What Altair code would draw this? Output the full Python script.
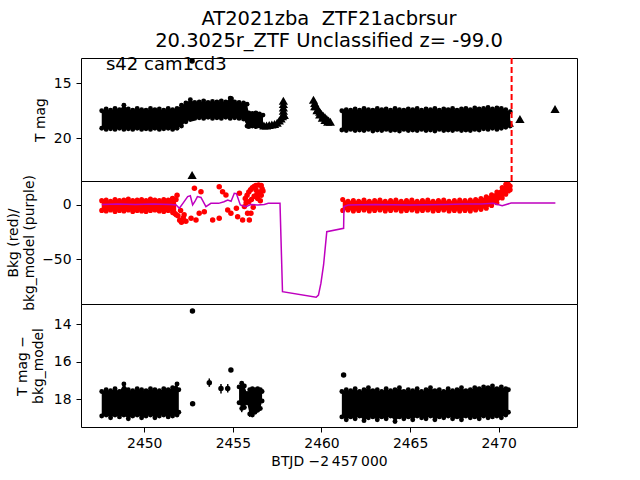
import altair as alt
import pandas as pd

FONT = "DejaVu Sans"
X_DOMAIN = [2446.43, 2474.42]
P1_DOMAIN = [12.7, 23.9]
P2_DOMAIN = [-91.2, 22.1]
P3_DOMAIN = [12.93, 19.49]
W, H = 496, 123

TITLE_LINES = ["AT2021zba\u00a0 ZTF21acbrsur", "20.3025r_ZTF Unclassified z= -99.0"]
LABEL_TEXT = "s42 cam1cd3"
LABEL_POS = [2447.84, 13.79]
X_TICKS = [2450, 2455, 2460, 2465, 2470]
P1_TICKS = [15, 20]
P2_TICKS = [0, -50]
P3_TICKS = [14, 16, 18]
DASH_T = [2470.73]

# ---------- panel 1: T mag ----------
p1a_t = [2447.6, 2447.85, 2448.1, 2448.35, 2448.6, 2448.85, 2449.1, 2449.35, 2449.6, 2449.85,
         2450.1, 2450.35, 2450.6, 2450.85, 2451.1, 2451.35, 2451.6, 2451.85, 2452.1, 2452.35,
         2452.6, 2452.85, 2453.1, 2453.35, 2453.6, 2453.85, 2454.1, 2454.35, 2454.6, 2454.85,
         2455.1, 2455.35, 2455.6, 2455.8, 2455.9, 2456.1, 2456.3, 2456.5, 2456.7]
p1a_top = [17.5, 17.35, 17.45, 17.3, 17.4, 17.0, 17.35, 17.45, 17.3, 17.4,
           17.45, 17.3, 17.4, 17.35, 17.45, 17.3, 17.4, 17.3, 17.0, 16.8,
           16.5, 16.75, 16.7, 16.6, 16.75, 16.65, 16.7, 16.6, 16.7, 16.35,
           16.7, 16.75, 16.8, 16.9, 17.7, 17.75, 17.7, 17.8, 17.9]
p1a_bot = [19.1, 19.2, 19.15, 19.2, 19.1, 19.2, 19.15, 19.2, 19.1, 19.2,
           19.15, 19.2, 19.1, 19.2, 19.15, 19.1, 19.2, 19.1, 18.9, 18.5,
           18.3, 18.2, 18.15, 18.2, 18.1, 18.2, 18.15, 18.2, 18.1, 18.2,
           18.15, 18.2, 18.25, 18.9, 18.95, 18.9, 18.95, 18.9, 18.85]
p1b_t = [2461.15, 2461.4, 2461.65, 2461.9, 2462.15, 2462.4, 2462.65, 2462.9, 2463.15, 2463.4,
         2463.65, 2463.9, 2464.15, 2464.4, 2464.65, 2464.9, 2465.15, 2465.4, 2465.65, 2465.9,
         2466.15, 2466.4, 2466.65, 2466.9, 2467.15, 2467.4, 2467.65, 2467.9, 2468.15, 2468.4,
         2468.65, 2468.9, 2469.15, 2469.4, 2469.65, 2469.9, 2470.15, 2470.4, 2470.65]
p1b_top = [17.5, 17.4, 17.45, 17.35, 17.45, 17.3, 17.4, 17.45, 17.3, 17.4,
           17.35, 17.45, 17.3, 17.4, 17.45, 17.35, 17.4, 17.3, 17.45, 17.35,
           17.4, 17.3, 17.45, 17.35, 17.4, 17.3, 17.45, 17.35, 17.3, 17.4,
           17.25, 17.35, 17.3, 17.2, 17.35, 17.25, 17.3, 17.4, 17.6]
p1b_bot = [19.25, 19.3, 19.2, 19.3, 19.25, 19.3, 19.2, 19.35, 19.25, 19.3,
           19.2, 19.3, 19.25, 19.35, 19.2, 19.3, 19.25, 19.3, 19.2, 19.3,
           19.25, 19.35, 19.2, 19.3, 19.25, 19.3, 19.2, 19.3, 19.25, 19.3,
           19.2, 19.25, 19.15, 19.2, 19.1, 19.2, 19.1, 19.0, 18.9]
p1_dot_t = [2452.7, 2452.72, 2454.9]
p1_dot_v = [12.97, 18.2, 16.4]
p1_tri_t = [2456.75, 2456.9, 2457.05, 2457.2, 2457.35, 2457.5, 2457.62, 2457.72,
            2457.85, 2457.85, 2457.85, 2457.85, 2457.85, 2457.8, 2457.9,
            2459.55, 2459.62, 2459.7, 2459.8, 2459.9, 2460.0, 2460.1, 2460.2, 2460.3, 2460.4, 2460.5,
            2459.62, 2459.75, 2459.9, 2460.05, 2460.2, 2460.35,
            2470.6, 2471.2, 2473.18, 2452.7]
p1_tri_v = [18.85, 18.85, 18.8, 18.75, 18.7, 18.6, 18.4, 18.2,
            16.6, 16.9, 17.2, 17.5, 17.8, 18.0, 17.9,
            16.5, 16.8, 17.1, 17.35, 17.6, 17.8, 17.95, 18.1, 18.25, 18.4, 18.5,
            17.1, 17.45, 17.85, 18.15, 18.35, 18.5,
            18.6, 18.25, 17.35, 23.35]

# ---------- panel 2: background ----------
p2a_t = [2447.6, 2447.85, 2448.1, 2448.35, 2448.6, 2448.85, 2449.1, 2449.35, 2449.6, 2449.85,
         2450.1, 2450.35, 2450.6, 2450.85, 2451.1, 2451.35, 2451.6, 2451.8]
p2a_top = [4, 4.5, 3.5, 5, 4, 4.5, 5.5, 4, 4.5, 5, 4, 5.5, 4.5, 4, 5, 4.5, 6, 5]
p2a_bot = [-5, -5.5, -4.5, -6, -5, -5.5, -4.5, -6, -5, -5.5, -6, -5, -4.5, -5.5, -6, -5, -7, -9]
p2b_t = [2461.2, 2461.5, 2461.8, 2462.1, 2462.4, 2462.7, 2463.0, 2463.3, 2463.6, 2463.9,
         2464.2, 2464.5, 2464.8, 2465.1, 2465.4, 2465.7, 2466.0, 2466.3, 2466.6, 2466.9,
         2467.2, 2467.5, 2467.8, 2468.1, 2468.4, 2468.7, 2469.0, 2469.3, 2469.6, 2469.9,
         2470.2, 2470.4, 2470.55, 2470.65]
p2b_top = [5, 3.5, 4, 3.5, 4.5, 3.5, 4, 4.5, 3.5, 4, 4.5, 3.5, 4, 4.5, 3.5, 4, 4.5, 3.5, 4, 4.5,
           3.5, 4, 4.5, 4, 4.5, 5, 6, 7.5, 9.5, 12, 16, 19, 19, 17.5]
p2b_bot = [-5, -4.5, -5.5, -5, -4.5, -5.5, -5, -4.5, -5.5, -5, -4.5, -5.5, -5, -4.5, -5.5, -5,
           -4.5, -5.5, -5, -4.5, -5.5, -5, -5.5, -5, -5.5, -4.5, -4, -3, -0.5, 2, 6.5, 10, 13, 14]
p2_dot_t = [2451.6, 2451.75, 2451.9, 2452.0, 2452.1, 2452.2, 2451.85, 2452.05, 2452.25, 2452.35,
            2452.64, 2452.92, 2452.83, 2453.2, 2453.1, 2453.39, 2453.86, 2454.23, 2454.23, 2454.42,
            2454.61, 2454.71, 2454.89, 2455.2, 2455.27, 2455.55, 2455.65, 2455.83, 2455.93, 2456.02,
            2455.37, 2455.7, 2455.8, 2455.9, 2456.0, 2456.1, 2456.2, 2456.3, 2456.45, 2456.6,
            2456.65, 2456.5, 2456.35, 2456.2, 2456.05, 2455.9, 2456.4, 2456.6, 2456.7, 2456.3,
            2456.55, 2456.15, 2455.75]
p2_dot_v = [6, -8, -10, -14, -16, -12, 9, -5, -9, -15,
            -12.3, -13.8, 15.4, 12.3, -7.7, -6.2, -13.8, -12.3, 16.9, 12.3,
            9.2, -4.6, -7.7, -3.1, -10.8, -13.8, -1.5, -7.7, -13.8, -7.7,
            10.8, 6, 9, 12, 14, 16, 17, 18, 18.5, 18,
            15, 12, 10, 8, 5, 3, 6, 9, 13, 14,
            4, -2, 2]
p2_model_t = [2447.6, 2448.5, 2449.5, 2450.5, 2451.5, 2451.8, 2451.98, 2452.2, 2452.45, 2452.6,
              2452.73, 2452.85, 2453.0, 2453.2, 2453.48, 2453.76, 2454.2, 2454.5, 2454.71, 2454.9,
              2455.08, 2455.2, 2455.42, 2455.74, 2456.0, 2456.4, 2456.77, 2457.0, 2457.4, 2457.66,
              2457.8, 2459.7, 2459.83, 2459.97, 2460.12, 2460.3, 2461.25, 2461.27, 2461.5, 2463.0,
              2465.0, 2467.0, 2468.0, 2469.0, 2469.7, 2470.2, 2470.7, 2471.5, 2473.2]
p2_model_v = [0.5, 0.8, 0.5, 0.8, 0.5, 0, -3, 2, 7.7, 8.5,
              0, 3, 7.7, 7, -1.5, 1.5, 1.5, 3, 4.6, 3.5,
              10.8, 10.5, 0, -1.5, 0.5, 0, 0.5, 1.5, 1.5, 1.5,
              -79.8, -85, -83, -72, -55, -24.6, -21.5, -1.5, 0, 0.5,
              0, 0.5, 0.9, 0.9, 1.5, -0.6, 1.8, 1.8, 1.8]

# ---------- panel 3: T mag - bkg_model ----------
p3a_t = [2447.6, 2447.85, 2448.1, 2448.35, 2448.6, 2448.85, 2449.1, 2449.35, 2449.6, 2449.85,
         2450.1, 2450.35, 2450.6, 2450.85, 2451.1, 2451.35, 2451.6, 2451.85, 2451.95]
p3a_top = [17.6, 17.5, 17.55, 17.45, 17.6, 17.2, 17.5, 17.55, 17.45, 17.5,
           17.55, 17.45, 17.5, 17.55, 17.45, 17.5, 17.4, 17.2, 17.5]
p3a_bot = [18.9, 18.85, 19.0, 18.85, 18.95, 18.85, 19.05, 18.9, 18.85, 19.0,
           18.9, 18.85, 19.0, 18.9, 18.85, 18.95, 18.9, 18.85, 18.7]
p3b_t = [2455.35, 2455.5, 2455.65, 2455.8, 2455.95, 2456.1, 2456.25, 2456.4, 2456.55, 2456.65]
p3b_top = [17.35, 17.15, 17.3, 17.7, 17.5, 17.45, 17.5, 17.45, 17.5, 17.6]
p3b_bot = [18.2, 18.5, 18.45, 18.2, 18.8, 18.85, 18.7, 18.6, 18.5, 18.1]
p3c_t = [2461.15, 2461.4, 2461.65, 2461.9, 2462.15, 2462.4, 2462.65, 2462.9, 2463.15, 2463.4,
         2463.65, 2463.9, 2464.15, 2464.4, 2464.65, 2464.9, 2465.15, 2465.4, 2465.65, 2465.9,
         2466.15, 2466.4, 2466.65, 2466.9, 2467.15, 2467.4, 2467.65, 2467.9, 2468.15, 2468.4,
         2468.65, 2468.9, 2469.15, 2469.4, 2469.65, 2469.9, 2470.15, 2470.4, 2470.55]
p3c_top = [17.6, 17.5, 17.55, 17.45, 17.6, 17.5, 17.4, 17.55, 17.5, 17.6,
           17.45, 17.55, 17.5, 17.4, 17.6, 17.5, 17.55, 17.45, 17.6, 17.5,
           17.4, 17.55, 17.5, 17.6, 17.45, 17.55, 17.5, 17.4, 17.55, 17.5,
           17.4, 17.45, 17.35, 17.4, 17.3, 17.45, 17.35, 17.45, 17.5]
p3c_bot = [18.95, 19.1, 18.95, 19.05, 18.9, 19.15, 19.0, 18.95, 19.1, 18.95,
           19.05, 18.9, 19.2, 18.95, 19.05, 18.95, 19.1, 18.9, 19.0, 19.05,
           18.9, 19.1, 18.95, 19.0, 18.9, 19.05, 18.95, 19.1, 18.9, 19.0,
           18.95, 19.05, 18.9, 19.0, 18.95, 18.9, 19.0, 18.85, 18.7]
p3_dot_t = [2452.72, 2452.73, 2453.67, 2454.33, 2454.71, 2454.89, 2461.25]
p3_dot_v = [13.3, 18.25, 17.13, 17.43, 17.43, 16.45, 16.72]
p3_err_t = [2453.67, 2454.33, 2454.71, 2455.5, 2455.95]
p3_err_lo = [16.9, 17.2, 17.2, 17.1, 17.5]
p3_err_hi = [17.35, 17.7, 17.65, 18.7, 18.95]


def band(parts):
    frames = []
    for k, (t, top, bot) in enumerate(parts):
        frames.append(pd.DataFrame({"t": t, "v": top, "v2": bot, "seg": k}))
    return pd.concat(frames, ignore_index=True)


def edges(df):
    a = df[["t", "v"]]
    b = df[["t", "v2"]].rename(columns={"v2": "v"})
    return pd.concat([a, b], ignore_index=True)


xscale = alt.Scale(domain=X_DOMAIN, nice=False, zero=False)
x_none = alt.X("t:Q", scale=xscale, axis=None)
x_axis = alt.X("t:Q", scale=xscale, axis=alt.Axis(
    values=X_TICKS, format="d", title="BTJD \u22122\u2009457\u2009000",
    tickSize=5, labelPadding=4, titlePadding=5, grid=False, domain=False))


def yenc(domain, ticks, title, tx):
    return alt.Y("v:Q", scale=alt.Scale(domain=domain, nice=False, zero=False,
                                       reverse=(domain[0] > 0)),
                 axis=alt.Axis(values=ticks, format="d", title=title, titleX=tx,
                               titleBaseline="bottom", titleAngle=-90, titleAlign="center",
                               tickSize=5, labelPadding=5, grid=False, domain=False))


# panel 1
b1 = band([(p1a_t, p1a_top, p1a_bot), (p1b_t, p1b_top, p1b_bot)])
y1 = yenc(P1_DOMAIN, P1_TICKS, "T mag", -34)
p1 = alt.layer(
    alt.Chart(b1).mark_area(color="black", opacity=1).encode(x=x_none, y=y1, y2="v2:Q", detail="seg:N"),
    alt.Chart(edges(b1)).mark_circle(color="black", size=24, opacity=1).encode(x=x_none, y=y1),
    alt.Chart(pd.DataFrame({"t": p1_dot_t, "v": p1_dot_v})).mark_circle(color="black", size=30, opacity=1).encode(x=x_none, y=y1),
    alt.Chart(pd.DataFrame({"t": [LABEL_POS[0]], "v": [LABEL_POS[1]], "s": [LABEL_TEXT]})).mark_text(
        align="left", baseline="alphabetic", font=FONT, fontSize=18, color="black").encode(x=x_none, y=y1, text="s:N"),
    alt.Chart(pd.DataFrame({"t": p1_tri_t, "v": p1_tri_v})).mark_point(
        shape="triangle-up", filled=True, color="black", size=85, opacity=1).encode(x=x_none, y=y1),
    alt.Chart(pd.DataFrame({"t": DASH_T})).mark_rule(color="red", strokeWidth=2, strokeDash=[6, 3]).encode(x=x_none),
).properties(width=W, height=H, title=alt.Title(
    TITLE_LINES, font=FONT, fontSize=19.5, fontWeight="normal", color="black",
    anchor="middle", frame="group", offset=4, lineHeight=22))

# panel 2
b2 = band([(p2a_t, p2a_top, p2a_bot), (p2b_t, p2b_top, p2b_bot)])
y2 = yenc(P2_DOMAIN, P2_TICKS, ["Bkg (red)/", "bkg_model (purple)"], -61)
p2 = alt.layer(
    alt.Chart(b2).mark_area(color="#ff0000", opacity=1).encode(x=x_none, y=y2, y2="v2:Q", detail="seg:N"),
    alt.Chart(edges(b2)).mark_circle(color="#ff0000", size=26, opacity=1).encode(x=x_none, y=y2),
    alt.Chart(pd.DataFrame({"t": p2_dot_t, "v": p2_dot_v})).mark_circle(color="#ff0000", size=30, opacity=1).encode(x=x_none, y=y2),
    alt.Chart(pd.DataFrame({"t": p2_model_t, "v": p2_model_v})).mark_line(color="#bf00bf", strokeWidth=1.5).encode(x=x_none, y=y2),
).properties(width=W, height=H)

# panel 3
b3 = band([(p3a_t, p3a_top, p3a_bot), (p3b_t, p3b_top, p3b_bot), (p3c_t, p3c_top, p3c_bot)])
y3 = yenc(P3_DOMAIN, P3_TICKS, ["T mag \u2212", "bkg_model"], -52)
p3 = alt.layer(
    alt.Chart(b3).mark_area(color="black", opacity=1).encode(x=x_axis, y=y3, y2="v2:Q", detail="seg:N"),
    alt.Chart(edges(b3)).mark_circle(color="black", size=24, opacity=1).encode(x=x_axis, y=y3),
    alt.Chart(pd.DataFrame({"t": p3_err_t, "v": p3_err_lo, "v2": p3_err_hi})).mark_rule(color="black", strokeWidth=1.5).encode(x=x_axis, y=y3, y2="v2:Q"),
    alt.Chart(pd.DataFrame({"t": p3_dot_t, "v": p3_dot_v})).mark_circle(color="black", size=30, opacity=1).encode(x=x_axis, y=y3),
).properties(width=W, height=H)

chart = alt.vconcat(p1, p2, p3, spacing=0, bounds="flush").properties(
    padding={"left": 5, "top": 8, "right": 10, "bottom": 10},
    background="white",
).configure_view(stroke="black", strokeWidth=1).configure_axis(
    labelFont=FONT, labelFontSize=13.9, labelColor="black",
    titleFont=FONT, titleFontSize=13.9, titleFontWeight="normal", titleColor="black",
    titleLineHeight=16.7, tickColor="black", tickWidth=1,
)

chart.save("out.html", embed_options={"renderer": "svg", "actions": False})
